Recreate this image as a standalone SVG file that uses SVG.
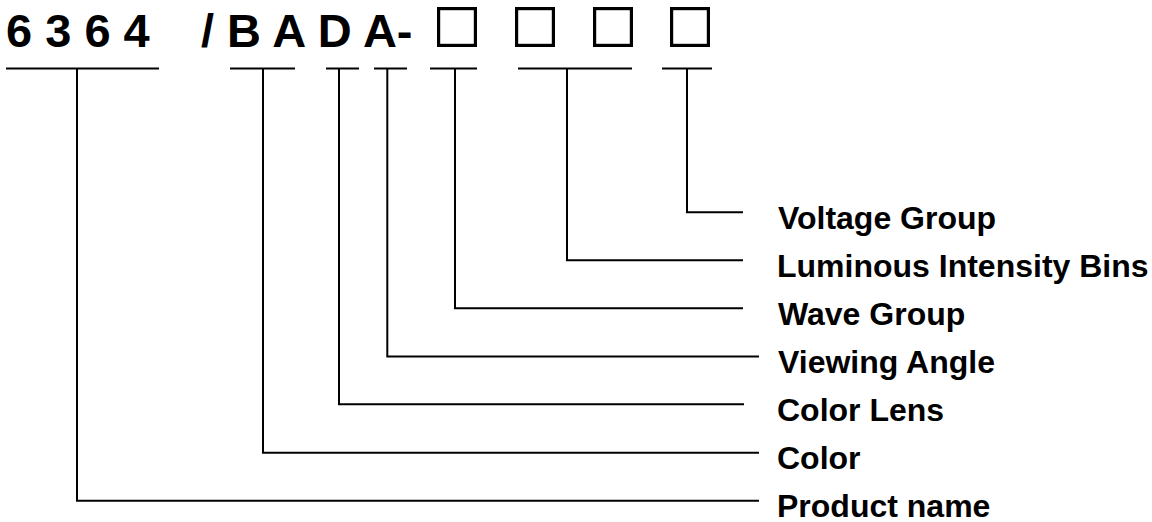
<svg xmlns="http://www.w3.org/2000/svg" width="1152" height="522" viewBox="0 0 1152 522">
<style>
.code{font-family:"Liberation Sans",Arial,sans-serif;font-weight:bold;font-size:47px;fill:#000}
.lbl{font-family:"Liberation Sans",Arial,sans-serif;font-weight:bold;font-size:32px;fill:#000}
.box{fill:none;stroke:#000;stroke-width:3.2}
.ln{fill:none;stroke:#000;stroke-width:2}
</style>
<rect width="1152" height="522" fill="#fff"/>
<g id="code">
<text class="code" x="6" y="47">6 3 6 4</text>
<text class="code" x="201" y="47">/ B A D A-</text>
<rect class="box" x="438.6" y="8.6" width="36.8" height="36.8"/>
<rect class="box" x="516.6" y="8.6" width="36.8" height="36.8"/>
<rect class="box" x="594.6" y="8.6" width="36.8" height="36.8"/>
<rect class="box" x="671.6" y="8.6" width="36.8" height="36.8"/>
</g>
<g id="connectors">
<path class="ln" d="M6,68.5H159M77,68.5V500.7H759"/>
<path class="ln" d="M230,68.5H295M263,68.5V452.7H759"/>
<path class="ln" d="M326,68.5H359M339,68.5V404.3H744"/>
<path class="ln" d="M374,68.5H407M387.3,68.5V356.5H759"/>
<path class="ln" d="M430,68.5H477M455,68.5V308.3H743"/>
<path class="ln" d="M518,68.5H632M567,68.5V260.3H743"/>
<path class="ln" d="M662,68.5H712M687,68.5V212.3H743"/>
</g>
<g id="n-voltage"><text class="lbl" x="778" y="228.5">Voltage Group</text></g>
<g id="n-luminous"><text class="lbl" x="777" y="276.5">Luminous Intensity Bins</text></g>
<g id="n-wave"><text class="lbl" x="778" y="324.5">Wave Group</text></g>
<g id="n-viewing"><text class="lbl" x="778" y="372.5">Viewing Angle</text></g>
<g id="n-colorlens"><text class="lbl" x="777" y="420.5">Color Lens</text></g>
<g id="n-color"><text class="lbl" x="777" y="468.5">Color</text></g>
<g id="n-product"><text class="lbl" x="777" y="516.5">Product name</text></g>
</svg>
